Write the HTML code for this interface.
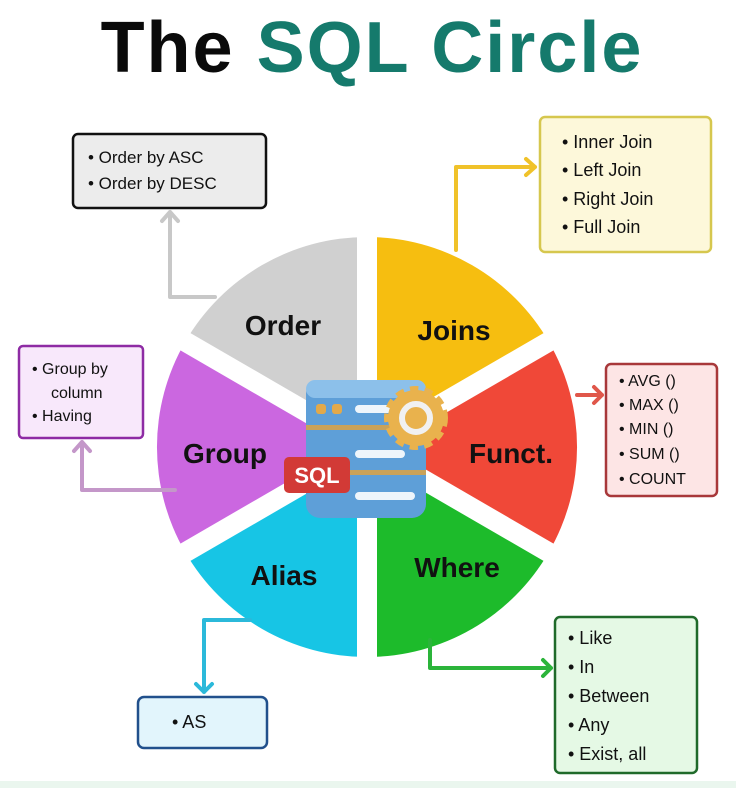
<!DOCTYPE html>
<html><head><meta charset="utf-8"><style>
html,body{margin:0;padding:0;background:#fff;}
svg{display:block;}
text{font-family:"Liberation Sans","DejaVu Sans",sans-serif;}
</style></head><body>
<svg width="736" height="788" viewBox="0 0 736 788" xmlns="http://www.w3.org/2000/svg">
<rect width="736" height="788" fill="#fff"/>
<rect x="0" y="781" width="736" height="7" fill="#eaf6ee"/>
<text x="372" y="72" text-anchor="middle" font-size="72" font-weight="bold" letter-spacing="2"><tspan fill="#0a0a0a">The </tspan><tspan fill="#157a6c">SQL Circle</tspan></text>

<!-- pie -->
<path d="M367 447 L367 237 A210 210 0 0 1 548.9 342 Z" fill="#f6be10"/>
<path d="M367 447 L548.9 342 A210 210 0 0 1 548.9 552 Z" fill="#f04838"/>
<path d="M367 447 L548.9 552 A210 210 0 0 1 367 657 Z" fill="#1dbb2b"/>
<path d="M367 447 L367 657 A210 210 0 0 1 185.1 552 Z" fill="#17c5e5"/>
<path d="M367 447 L185.1 552 A210 210 0 0 1 185.1 342 Z" fill="#cb67e0"/>
<path d="M367 447 L185.1 342 A210 210 0 0 1 367 237 Z" fill="#d0d0d0"/>
<g stroke="#fff" stroke-width="20">
<line x1="367" y1="447" x2="367" y2="230"/>
<line x1="367" y1="447" x2="367" y2="665"/>
<line x1="367" y1="447" x2="555" y2="338"/>
<line x1="367" y1="447" x2="555" y2="556"/>
<line x1="367" y1="447" x2="179" y2="338"/>
<line x1="367" y1="447" x2="179" y2="556"/>
</g>
<g font-size="28" font-weight="bold" fill="#111" text-anchor="middle">
<text x="283" y="335">Order</text>
<text x="454" y="340">Joins</text>
<text x="225" y="463">Group</text>
<text x="511" y="463">Funct.</text>
<text x="284" y="585">Alias</text>
<text x="457" y="577">Where</text>
</g>

<!-- db icon -->
<g>
<rect x="306" y="380" width="120" height="138" rx="14" fill="#5e9fd8"/>
<rect x="306" y="380" width="120" height="18" rx="9" fill="#8cc0ea"/>
<rect x="306" y="425" width="120" height="5" fill="#c9a25a"/>
<rect x="306" y="470" width="120" height="5" fill="#c9a25a"/>
<rect x="316" y="404" width="10" height="10" rx="3" fill="#e2a94a"/>
<rect x="332" y="404" width="10" height="10" rx="3" fill="#e2a94a"/>
<rect x="355" y="405" width="40" height="8" rx="4" fill="#eef5fb"/>
<rect x="355" y="450" width="50" height="8" rx="4" fill="#eef5fb"/>
<rect x="355" y="492" width="60" height="8" rx="4" fill="#eef5fb"/>
<circle cx="416" cy="418" r="28" fill="#e9b24d" stroke="#e9b24d" stroke-width="8" stroke-dasharray="8 6"/>
<circle cx="416" cy="418" r="14" fill="none" stroke="#f1f1f1" stroke-width="6"/>
<rect x="284" y="457" width="66" height="36" rx="5" fill="#d23a36"/>
<text x="317" y="483" text-anchor="middle" font-size="22" font-weight="bold" fill="#fff">SQL</text>
</g>

<!-- connectors -->
<g fill="none" stroke-width="4" stroke-linejoin="round" stroke-linecap="round">
<path d="M215 297 H170 V212 M162 221 L170 212 L178 221" stroke="#c8c8c8"/>
<path d="M456 250 V167 H535 M526 159 L535 167 L526 175" stroke="#f0c22a"/>
<path d="M175 490 H82 V442 M74 451 L82 442 L90 451" stroke="#c497c9"/>
<path d="M577 395 H602 M594 387 L602 395 L594 403" stroke="#e0574a"/>
<path d="M250 620 H204 V692 M196 684 L204 692 L212 684" stroke="#2bb9da"/>
<path d="M430 640 V668 H551 M543 660 L551 668 L543 676" stroke="#2bb43a"/>
</g>

<!-- boxes -->
<g font-size="17" fill="#111">
<rect x="73" y="134" width="193" height="74" rx="5" fill="#ececec" stroke="#111" stroke-width="2.5"/>
<text x="88" y="163">•  Order by ASC</text>
<text x="88" y="189">•  Order by DESC</text>

<rect x="540" y="117" width="171" height="135" rx="5" fill="#fdf8da" stroke="#d6c74e" stroke-width="2.5"/>
<text x="562" y="148" font-size="18">•  Inner Join</text>
<text x="562" y="176" font-size="18">•  Left Join</text>
<text x="562" y="205" font-size="18">•  Right Join</text>
<text x="562" y="233" font-size="18">•  Full Join</text>

<rect x="19" y="346" width="124" height="92" rx="4" fill="#f8e8fb" stroke="#8e2ba4" stroke-width="2.5"/>
<text x="32" y="374" font-size="16">•  Group by</text>
<text x="51" y="398" font-size="16">column</text>
<text x="32" y="421" font-size="16">•  Having</text>

<rect x="606" y="364" width="111" height="132" rx="5" fill="#fde5e5" stroke="#a8383a" stroke-width="2.5"/>
<text x="619" y="386" font-size="16">•  AVG ()</text>
<text x="619" y="410" font-size="16">•  MAX ()</text>
<text x="619" y="434" font-size="16">•  MIN ()</text>
<text x="619" y="459" font-size="16">•  SUM ()</text>
<text x="619" y="484" font-size="16">•  COUNT</text>

<rect x="138" y="697" width="129" height="51" rx="6" fill="#e2f5fc" stroke="#21508c" stroke-width="2.5"/>
<text x="172" y="728" font-size="18">•  AS</text>

<rect x="555" y="617" width="142" height="156" rx="5" fill="#e5f9e5" stroke="#1f6a2a" stroke-width="2.5"/>
<text x="568" y="644" font-size="18">•  Like</text>
<text x="568" y="673" font-size="18">•  In</text>
<text x="568" y="702" font-size="18">•  Between</text>
<text x="568" y="731" font-size="18">•  Any</text>
<text x="568" y="760" font-size="18">•  Exist, all</text>
</g>
</svg>
</body></html>
